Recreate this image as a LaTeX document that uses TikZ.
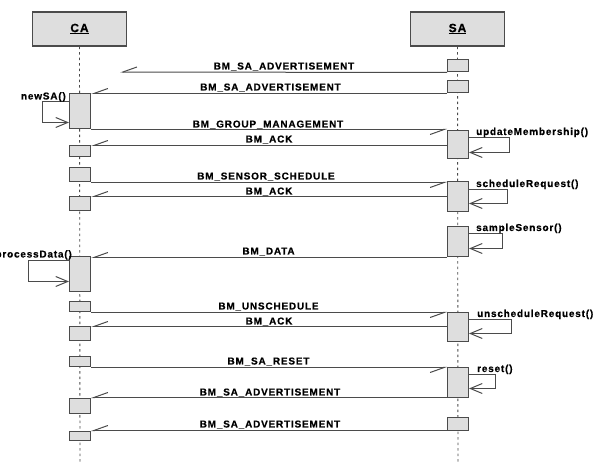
\documentclass[tikz,border=0pt]{standalone}
\usepackage{fontspec}
\setmainfont{Liberation Sans}
\newfontfamily\lblfont{Liberation Sans}[LetterSpace=8,FakeBold=0.6]
\usetikzlibrary{arrows.meta}
\definecolor{boxfill}{RGB}{222,222,222}
\definecolor{linegray}{RGB}{75,75,75}
\begin{document}
\begin{tikzpicture}[x=1pt,y=-1pt,
  every node/.style={font=\lblfont\bfseries\fontsize{10}{12}\selectfont, text=black},
  head/.style={draw=linegray, fill=boxfill, line width=1.1pt, minimum width=94pt, minimum height=34pt, inner sep=0pt, font=\lblfont\bfseries\fontsize{12}{14}\selectfont},
  life/.style={draw=linegray, line width=0.9pt, dash pattern=on 2.5pt off 3pt},
  act/.style={draw=linegray, fill=boxfill, line width=1pt, minimum width=21pt, inner sep=0pt},
  msg/.style={draw=linegray, line width=1pt, -{Straight Barb[harpoon,swap,length=14pt,width=10pt,line width=1pt]}},
  call/.style={draw=linegray, line width=1pt, -{Straight Barb[length=12pt,width=10pt,line width=1pt]}},
  lbl/.style={anchor=base, inner sep=0pt},
  lblw/.style={anchor=base west, inner sep=0pt},
  lble/.style={anchor=base east, inner sep=0pt},
]
\useasboundingbox (0,0) rectangle (600,470);

% headers
\node[head] (ca) at (79.5,29) {\underline{CA}};
\node[head] (sa) at (457.5,29) {\underline{SA}};
\coordinate (caend) at (80,463);
\coordinate (saend) at (458,462);
\draw[life] (ca.south) -- (caend);
\draw[life] (sa.south) -- (saend);

% SA activations
\node[act, minimum height=12pt] (s1) at (458,66) {};
\node[act, minimum height=12pt] (s2) at (458,87) {};
\node[act, minimum height=28pt] (s3) at (458,145) {};
\node[act, minimum height=30pt] (s4) at (458,197) {};
\node[act, minimum height=30pt] (s5) at (458,242) {};
\node[act, minimum height=29pt] (s6) at (458,327.5) {};
\node[act, minimum height=29pt] (s7) at (458,382.5) {};
\node[act, minimum height=13pt] (s8) at (458,423.5) {};

% CA activations
\node[act, minimum height=35pt] (c2) at (80,111.5) {};
\node[act, minimum height=11pt] (c3) at (80,151.5) {};
\node[act, minimum height=14pt] (c4) at (80,175) {};
\node[act, minimum height=14pt] (c5) at (80,204) {};
\node[act, minimum height=35pt] (c6) at (80,274.5) {};
\node[act, minimum height=10pt] (c7) at (80,307) {};
\node[act, minimum height=14pt] (c8) at (80,334) {};
\node[act, minimum height=10pt] (c9) at (80,362) {};
\node[act, minimum height=15pt] (c10) at (80,405.5) {};
\node[act, minimum height=9pt] (c11) at (80,435.5) {};

% messages
\coordinate (m1end) at (120,72);
\draw[msg] (s1.south west) -- (m1end);
\draw[msg] (s2.south west) -- (s2.south west -| c2.east);
\draw[msg] (c2.south east) -- (c2.south east -| s3.west);
\draw[msg] (s3.west |- c3.north) -- (c3.north east);
\draw[msg] (c4.south east) -- (c4.south east -| s4.west);
\draw[msg] (s4.west |- c5.north) -- (c5.north east);
\draw[msg] (s5.south west) -- (s5.south west -| c6.east);
\draw[msg] (c7.south east) -- (c7.south east -| s6.west);
\draw[msg] (s6.west |- c8.north) -- (c8.north east);
\draw[msg] (c9.south east) -- (c9.south east -| s7.west);
\draw[msg] (s7.south west) -- (s7.south west -| c10.east);
\draw[msg] (s8.south west) -- (s8.south west -| c11.east);

% message labels
\node[lbl] (l1) at (284,69.5) {BM\_SA\_ADVERTISEMENT};
\node[lbl] (l2) at (270.5,90.5) {BM\_SA\_ADVERTISEMENT};
\node[lbl] (l3) at (268,127.5) {BM\_GROUP\_MANAGEMENT};
\node[lbl] (l4) at (269,142.5) {BM\_ACK};
\node[lbl] (l5) at (266,179.5) {BM\_SENSOR\_SCHEDULE};
\node[lbl] (l6) at (269,194.5) {BM\_ACK};
\node[lbl] (l7) at (268.5,254.5) {BM\_DATA};
\node[lbl] (l8) at (268.5,309.5) {BM\_UNSCHEDULE};
\node[lbl] (l9) at (269,324.5) {BM\_ACK};
\node[lbl] (l10) at (268.5,364.5) {BM\_SA\_RESET};
\node[lbl] (l11) at (270,395.5) {BM\_SA\_ADVERTISEMENT};
\node[lbl] (l12) at (270,427.5) {BM\_SA\_ADVERTISEMENT};

% self calls
\draw[call] ([yshift=-8pt]c2.north west) -- ++(-27,0) |- ([yshift=-29pt]c2.north west);
\draw[call] ([yshift=-7pt]s3.north east) -- ++(40,0) |- ([yshift=-22pt]s3.north east);
\draw[call] ([yshift=-8pt]s4.north east) -- ++(38,0) |- ([yshift=-22pt]s4.north east);
\draw[call] ([yshift=-7pt]s5.north east) -- ++(33,0) |- ([yshift=-22pt]s5.north east);
\draw[call] ([yshift=-4pt]c6.north west) -- ++(-41,0) |- ([yshift=-25pt]c6.north west);
\draw[call] ([yshift=-7pt]s6.north east) -- ++(42,0) |- ([yshift=-21pt]s6.north east);
\draw[call] ([yshift=-7pt]s7.north east) -- ++(26,0) |- ([yshift=-21pt]s7.north east);

\node[lble] (n1) at (66,99.5) {newSA()};
\node[lblw] (n2) at (476,135) {updateMembership()};
\node[lblw] (n3) at (476,187) {scheduleRequest()};
\node[lblw] (n4) at (476,231) {sampleSensor()};
\node[lble] (n5) at (72,257.5) {processData()};
\node[lblw] (n6) at (477,317) {unscheduleRequest()};
\node[lblw] (n7) at (477,372) {reset()};
\end{tikzpicture}
\end{document}
